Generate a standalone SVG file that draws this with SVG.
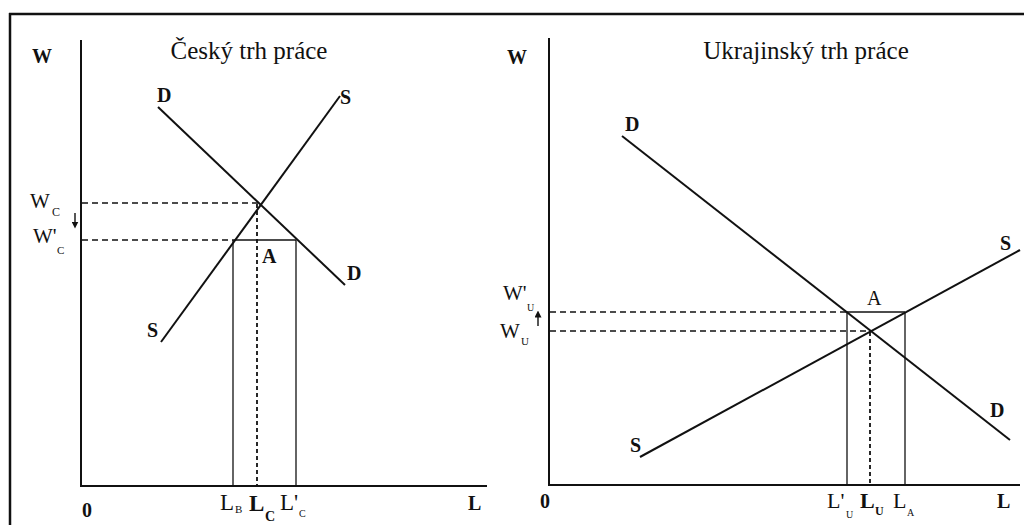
<svg xmlns="http://www.w3.org/2000/svg" width="1024" height="525" viewBox="0 0 1024 525">
<defs>
<style>
.t{font-family:"Liberation Serif","Times New Roman",serif;fill:#111}
.b{font-weight:bold}
.lb{font-size:20px;font-weight:bold}
.ti{font-size:25px}
.ax{stroke:#111;stroke-width:2;fill:none}
.cv{stroke:#111;stroke-width:2;fill:none}
.th{stroke:#111;stroke-width:1.3;fill:none}
.da{stroke:#111;stroke-width:1.6;stroke-dasharray:6 4;fill:none}
.dv{stroke:#111;stroke-width:1.8;stroke-dasharray:4 3;fill:none}
</style>
<marker id="ah" viewBox="0 0 6 6" refX="3" refY="3" markerWidth="5" markerHeight="5" orient="auto-start-reverse">
<path d="M0,0 L6,3 L0,6 z" fill="#111"/>
</marker>
</defs>
<rect width="1024" height="525" fill="#fff"/>
<g id="frame">
<line x1="9" y1="14" x2="1024" y2="14" stroke="#111" stroke-width="2.5"/>
<line x1="10" y1="13" x2="10" y2="525" stroke="#111" stroke-width="2.5"/>
</g>

<g id="left-panel">
<g id="left-axes">
<line class="ax" x1="81" y1="40" x2="81" y2="486"/>
<line class="ax" x1="80" y1="486" x2="487" y2="486"/>
<text class="t lb" x="32" y="63">W</text>
<text class="t lb" x="82" y="517">0</text>
<text class="t lb" x="468" y="510">L</text>
<text class="t ti" x="249" y="59" text-anchor="middle">Český trh práce</text>
</g>
<g id="left-curves">
<line class="cv" x1="158" y1="107" x2="345" y2="285"/>
<line class="cv" x1="161" y1="342" x2="340" y2="96"/>
<text class="t lb" x="157" y="102">D</text>
<text class="t lb" x="340" y="104">S</text>
<text class="t lb" x="347" y="280">D</text>
<text class="t lb" x="147" y="337">S</text>
<text class="t lb" x="262" y="263" font-size="19">A</text>
</g>
<g id="left-guides">
<line class="da" x1="82" y1="203" x2="258" y2="203"/>
<line class="da" x1="82" y1="240" x2="233" y2="240"/>
<line class="th" x1="233" y1="240" x2="296" y2="240"/>
<line class="th" x1="233" y1="240" x2="233" y2="486"/>
<line class="th" x1="296" y1="240" x2="296" y2="486"/>
<line class="dv" x1="257" y1="204" x2="257" y2="486"/>
</g>
<g id="left-labels">
<text class="t" font-size="21"><tspan x="30" y="208">W</tspan><tspan x="52" y="216" font-size="12">C</tspan></text>
<line x1="75" y1="213" x2="75" y2="225" stroke="#111" stroke-width="1.4" marker-end="url(#ah)"/>
<text class="t" font-size="21"><tspan x="33" y="243">W'</tspan><tspan x="57" y="254" font-size="11">C</tspan></text>
<text class="t" font-size="23"><tspan x="220" y="510">L</tspan><tspan x="235" y="513" font-size="11">B</tspan></text>
<text class="t b" font-size="23"><tspan x="249" y="511">L</tspan><tspan x="265" y="521" font-size="14">C</tspan></text>
<text class="t" font-size="23"><tspan x="280" y="510">L'</tspan><tspan x="299" y="517" font-size="10">C</tspan></text>
</g>
</g>

<g id="right-panel">
<g id="right-axes">
<line class="ax" x1="549" y1="38" x2="549" y2="486"/>
<line class="ax" x1="548" y1="485" x2="1020" y2="485"/>
<text class="t lb" x="507" y="64">W</text>
<text class="t lb" x="540" y="508">0</text>
<text class="t lb" x="997" y="508">L</text>
<text class="t ti" x="806" y="59" text-anchor="middle">Ukrajinský trh práce</text>
</g>
<g id="right-curves">
<line class="cv" x1="622" y1="136" x2="1010" y2="440"/>
<line class="cv" x1="640" y1="457" x2="1020" y2="250"/>
<text class="t lb" x="625" y="131">D</text>
<text class="t lb" x="1000" y="250">S</text>
<text class="t lb" x="990" y="417">D</text>
<text class="t lb" x="630" y="452">S</text>
<text class="t" x="867" y="305" font-size="20">A</text>
</g>
<g id="right-guides">
<line class="da" x1="550" y1="312" x2="847" y2="312"/>
<line class="da" x1="550" y1="331" x2="870" y2="331" stroke-width="1.3"/>
<line class="th" x1="847" y1="312" x2="905" y2="312"/>
<line class="th" x1="847" y1="312" x2="847" y2="485"/>
<line class="th" x1="905" y1="312" x2="905" y2="485"/>
<line class="dv" x1="870" y1="332" x2="870" y2="485"/>
</g>
<g id="right-labels">
<text class="t" font-size="21"><tspan x="503" y="300">W'</tspan><tspan x="527" y="311" font-size="10">U</tspan></text>
<line x1="538" y1="326" x2="538" y2="314" stroke="#111" stroke-width="1.4" marker-end="url(#ah)"/>
<text class="t" font-size="21"><tspan x="500" y="338">W</tspan><tspan x="521" y="345" font-size="11">U</tspan></text>
<text class="t" font-size="22"><tspan x="827" y="508">L'</tspan><tspan x="846" y="518" font-size="10">U</tspan></text>
<text class="t b" font-size="22"><tspan x="860" y="508">L</tspan><tspan x="875" y="515" font-size="12">U</tspan></text>
<text class="t" font-size="22"><tspan x="893" y="508">L</tspan><tspan x="907" y="516" font-size="10">A</tspan></text>
</g>
</g>
</svg>
